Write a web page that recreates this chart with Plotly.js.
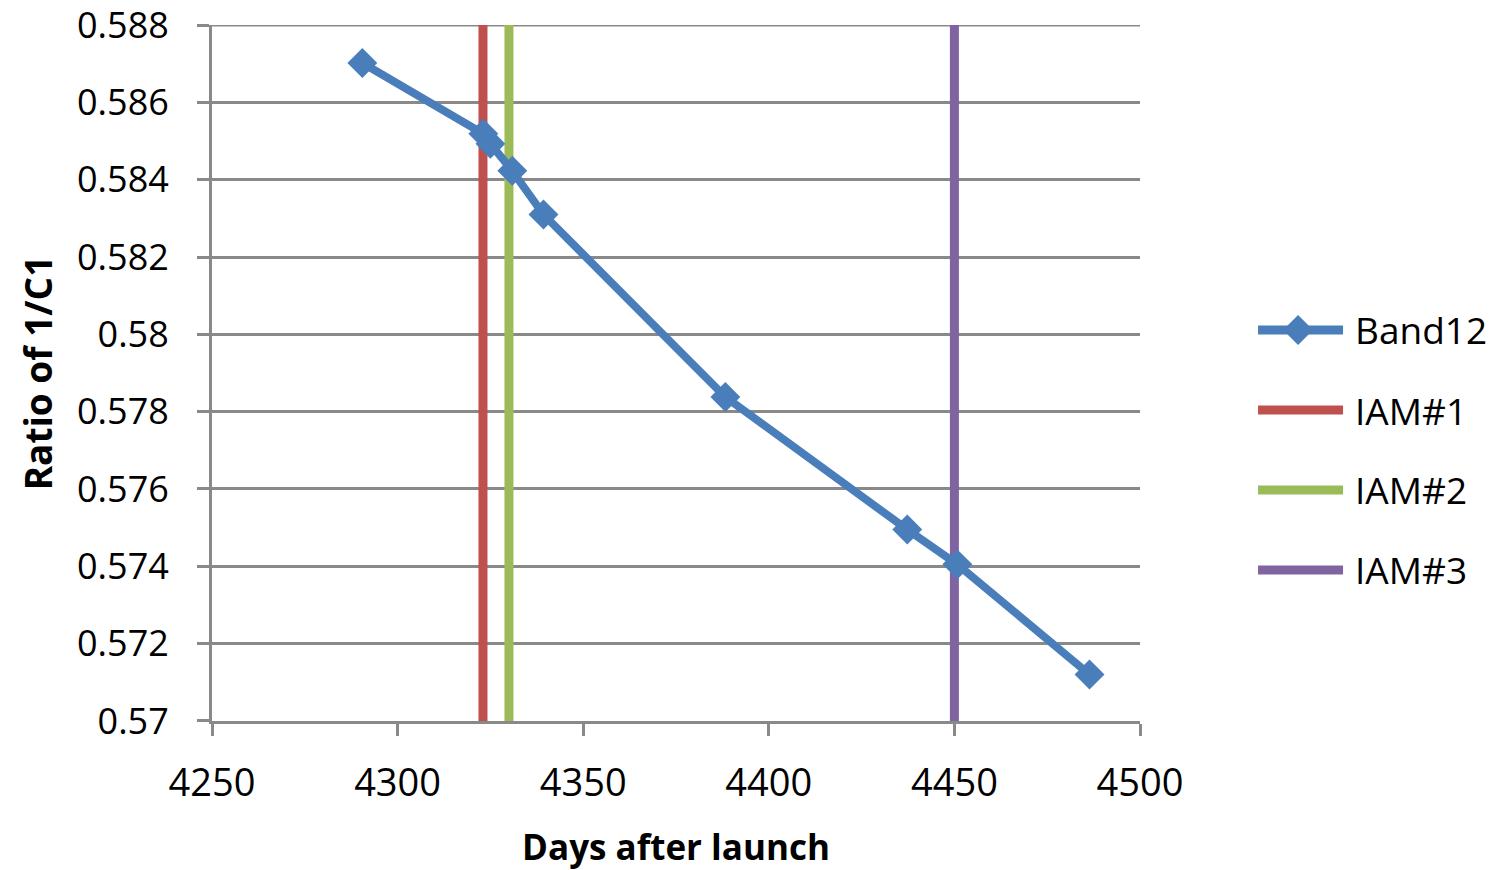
<!DOCTYPE html>
<html>
<head>
<meta charset="utf-8">
<script src="https://cdn.plot.ly/plotly-3.0.1.min.js"></script>
<style>
  html, body { margin: 0; padding: 0; background: #ffffff; }
  #chart { width: 1497px; height: 870px; }
</style>
</head>
<body>
<div id="chart"></div>
<script>
// Band12 calibration coefficient ratio versus days after launch
const band12Days  = [4290.5, 4323.1, 4325.0, 4330.9, 4339.3, 4388.3, 4437.3, 4450.8, 4486.4];
const band12Ratio = [0.58702, 0.58519, 0.58493, 0.58423, 0.58310, 0.57838, 0.57495, 0.57405, 0.57120];

// IAM event dates (vertical markers across the full y range)
const iamNames = ['IAM#1', 'IAM#2', 'IAM#3'];
const iamDays  = [4323, 4330, 4450];
const iamColors = ['#C0504D', '#9BBB59', '#8064A2'];

const yRange = [0.57, 0.588];
const xRange = [4250, 4500];
const xTicks = [4250, 4300, 4350, 4400, 4450, 4500];
const yTicks = [0.57, 0.572, 0.574, 0.576, 0.578, 0.58, 0.582, 0.584, 0.586, 0.588];
const yTickText = ['0.57', '0.572', '0.574', '0.576', '0.578', '0.58', '0.582', '0.584', '0.586', '0.588'];

const bandColor = '#4A7EBB';
const gridColor = '#898989';
const FONT = 'Open Sans, Noto Sans, sans-serif';

const traces = [];
iamDays.forEach((d, i) => {
  traces.push({
    type: 'scatter', mode: 'lines', name: iamNames[i],
    x: [d, d], y: yRange,
    line: { color: iamColors[i], width: 9 },
    showlegend: false, hoverinfo: 'skip'
  });
});
traces.push({
  type: 'scatter', mode: 'lines+markers', name: 'Band12',
  x: band12Days, y: band12Ratio,
  line: { color: bandColor, width: 8 },
  marker: { symbol: 'diamond', size: 23, color: bandColor },
  showlegend: false
});

const shapes = [];
const annotations = [];

// Top gridline at the upper end of the y range (Plotly skips grid at range ends)
shapes.push({
  type: 'line', xref: 'paper', yref: 'y', layer: 'below',
  x0: 0, x1: 1, y0: yRange[1], y1: yRange[1],
  line: { color: gridColor, width: 3 }
});

// Hand-drawn legend to the right of the plot area
const legendItems = [
  { name: 'Band12', color: bandColor, marker: true },
  { name: iamNames[0], color: iamColors[0] },
  { name: iamNames[1], color: iamColors[1] },
  { name: iamNames[2], color: iamColors[2] }
];
const legendY = [0.5618, 0.4468, 0.3319, 0.2170];
legendItems.forEach((it, i) => {
  shapes.push({
    type: 'line', xref: 'paper', yref: 'paper',
    x0: 1.1272, x1: 1.2188, y0: legendY[i], y1: legendY[i],
    line: { color: it.color, width: 9 }
  });
  if (it.marker) {
    shapes.push({
      type: 'path', xref: 'paper', yref: 'paper',
      xsizemode: 'pixel', ysizemode: 'pixel',
      xanchor: 1.1703, yanchor: legendY[i],
      path: 'M -15 0 L 0 15 L 15 0 L 0 -15 Z',
      fillcolor: it.color, line: { width: 0 }
    });
  }
  annotations.push({
    xref: 'paper', yref: 'paper', x: 1.2295, y: legendY[i],
    xanchor: 'left', yanchor: 'middle', showarrow: false,
    text: it.name, font: { family: FONT, size: 37, color: '#000000' }
  });
});

const layout = {
  width: 1497, height: 870,
  margin: { l: 212, r: 357, t: 25, b: 149 },
  paper_bgcolor: '#ffffff', plot_bgcolor: '#ffffff',
  showlegend: false,
  font: { family: FONT, color: '#000000' },
  xaxis: {
    range: xRange, tickvals: xTicks, ticktext: xTicks.map(String),
    showgrid: false, zeroline: false,
    showline: true, linecolor: gridColor, linewidth: 3,
    ticks: 'outside', ticklen: 12, tickwidth: 3, tickcolor: gridColor,
    ticklabelstandoff: 14,
    tickfont: { family: FONT, size: 38, color: '#000000' },
    title: { text: '<b>Days after launch</b>', font: { family: FONT, size: 35, color: '#000000' }, standoff: 30 },
    automargin: false
  },
  yaxis: {
    range: [yRange[0] - 0.000002, yRange[1] + 0.000002],
    tickvals: yTicks, ticktext: yTickText,
    ticklabeloverflow: 'allow',
    showgrid: true, gridcolor: gridColor, gridwidth: 3, zeroline: false,
    showline: true, linecolor: gridColor, linewidth: 3,
    ticks: 'outside', ticklen: 12, tickwidth: 3, tickcolor: gridColor,
    ticklabelstandoff: 21,
    tickfont: { family: FONT, size: 36, color: '#000000' },
    title: { text: '<b>Ratio of 1/C1</b>', font: { family: FONT, size: 37, color: '#000000' }, standoff: 14 },
    automargin: false
  },
  shapes: shapes,
  annotations: annotations
};

Plotly.newPlot('chart', traces, layout, { displayModeBar: false, staticPlot: true });
</script>
</body>
</html>
